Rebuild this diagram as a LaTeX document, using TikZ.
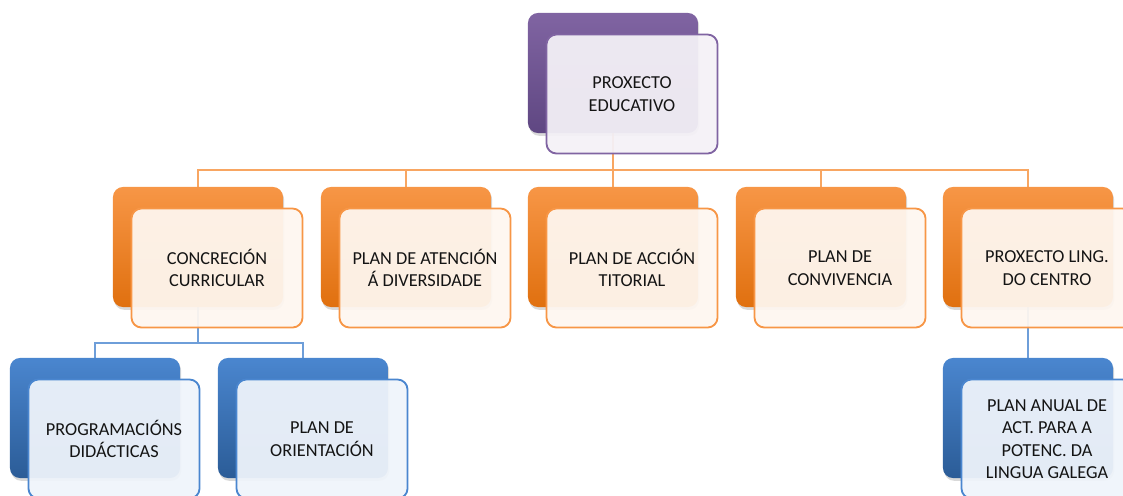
\documentclass[tikz,border=0pt]{standalone}
\usepackage{fontspec}
\setmainfont{Carlito}
\usetikzlibrary{shadows,backgrounds}
\definecolor{purp}{HTML}{8064A2}
\definecolor{purpdk}{HTML}{5F4782}
\definecolor{oran}{HTML}{F79646}
\definecolor{orandk}{HTML}{E0700F}
\definecolor{blu}{HTML}{4A86CF}
\definecolor{bludk}{HTML}{2B5C97}
\definecolor{txt}{HTML}{141414}

\begin{document}
\begin{tikzpicture}[x=0.025cm,y=-0.025cm,
    back/.style={draw=none,rounded corners=0.25cm,minimum width=4.25cm,minimum height=3cm,
      drop shadow={opacity=0.3,shadow xshift=0.03cm,shadow yshift=-0.07cm}},
    front/.style={rounded corners=0.25cm,minimum width=4.275cm,minimum height=2.975cm,
      line width=1.3pt,fill opacity=0.94,text opacity=1,align=center,text=txt,
      font=\fontsize{13}{16}\selectfont},
    pback/.style={back,top color=purp,bottom color=purpdk},
    oback/.style={back,top color=oran,bottom color=orandk},
    bback/.style={back,top color=blu,bottom color=bludk},
    pfront/.style={front,draw=purp,fill=purp!9!white},
    ofront/.style={front,draw=oran,fill=oran!8!white},
    bfront/.style={front,draw=blu,fill=blu!9!white},
    oline/.style={draw=oran!85!white,line width=1.6pt},
    bline/.style={draw=blu!80!white,line width=1.6pt}]
  \useasboundingbox (0,0) rectangle (1123,495);
  \clip (0,0) rectangle (1123,495);

  % top
  \node[pback] (pe) at (613,73) {};
  \node[pfront] (pet) at ([xshift=0.475cm,yshift=-0.525cm]pe.center) {PROXECTO\\EDUCATIVO};

  % second row
  \node[oback] (cc) at (198,247) {};
  \node[ofront] (cct) at ([xshift=0.475cm,yshift=-0.525cm]cc.center) {CONCRECIÓN\\CURRICULAR};
  \node[oback] (pad) at (406,247) {};
  \node[ofront] (padt) at ([xshift=0.475cm,yshift=-0.525cm]pad.center) {PLAN DE ATENCIÓN\\Á DIVERSIDADE};
  \node[oback] (pat) at (613,247) {};
  \node[ofront] (patt) at ([xshift=0.475cm,yshift=-0.525cm]pat.center) {PLAN DE ACCIÓN\\TITORIAL};
  \node[oback] (pc) at (821,247) {};
  \node[ofront] (pct) at ([xshift=0.475cm,yshift=-0.525cm]pc.center) {PLAN DE\\CONVIVENCIA};
  \node[oback] (pl) at (1028,247) {};
  \node[ofront] (plt) at ([xshift=0.475cm,yshift=-0.525cm]pl.center) {PROXECTO LING.\\DO CENTRO};

  % third row
  \node[bback] (pd) at (95,418) {};
  \node[bfront] (pdt) at ([xshift=0.475cm,yshift=-0.525cm]pd.center) {PROGRAMACIÓNS\\DIDÁCTICAS};
  \node[bback] (po) at (303,418) {};
  \node[bfront] (pot) at ([xshift=0.475cm,yshift=-0.525cm]po.center) {PLAN DE\\ORIENTACIÓN};
  \node[bback] (pa) at (1028,418) {};
  \node[bfront] (pat2) at ([xshift=0.475cm,yshift=-0.525cm]pa.center) {PLAN ANUAL DE\\ACT. PARA A\\POTENC. DA\\LINGUA GALEGA};

  \begin{scope}[on background layer]
    \coordinate (bus) at (613,170);
    \foreach \n in {cc,pad,pat,pc,pl}
      \draw[oline] (pe.south) -- (bus) -| (\n.north);
    \coordinate (bus2) at (198,343);
    \foreach \n in {pd,po}
      \draw[bline] (cc.south) -- (bus2) -| (\n.north);
    \draw[bline] (pl.south) -- (pa.north);
  \end{scope}
\end{tikzpicture}
\end{document}
